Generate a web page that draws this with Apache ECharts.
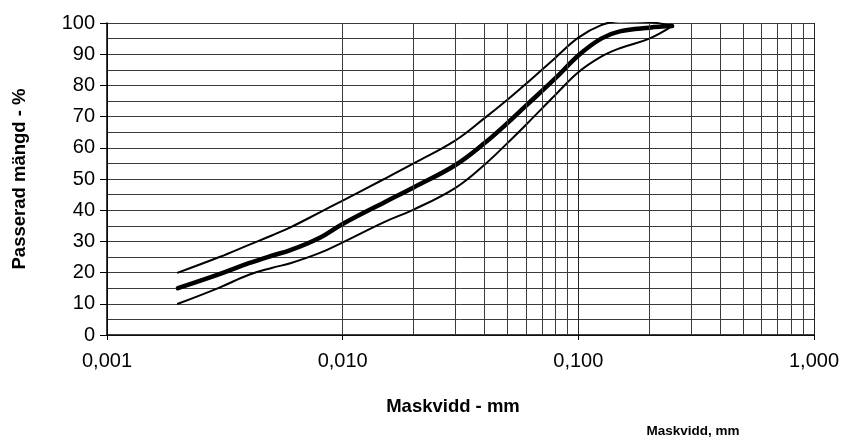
<!DOCTYPE html>
<html>
<head>
<meta charset="utf-8">
<script src="https://cdn.jsdelivr.net/npm/echarts@6/dist/echarts.min.js"></script>
<style>
html,body{margin:0;padding:0;background:#fff;}
#c{width:842px;height:438px;}
</style>
</head>
<body>
<div id="c"></div>
<script>
// Sieve sizes (mm)
var sizes = [0.002, 0.003, 0.004, 0.005, 0.006, 0.008, 0.01, 0.015, 0.02, 0.03, 0.04, 0.05, 0.06, 0.08, 0.1, 0.125, 0.15, 0.2, 0.25];
// Upper limit (%)
var upper = [20, 25, 28.9, 31.9, 34.5, 39.3, 43.1, 50, 55, 62.3, 69.5, 75.4, 80.5, 88.9, 95.3, 99.3, 100.6, 100.3, 99];
// Middle curve (%)
var middle = [15, 19.5, 23, 25.4, 27.2, 31.2, 35.6, 42.5, 47.3, 54.4, 61.5, 67.9, 73.5, 82.3, 89.6, 95, 97.3, 98.5, 99];
// Lower limit (%)
var lower = [10, 15.2, 19.3, 21.5, 23, 26.3, 29.7, 36.2, 40.2, 47.1, 54.6, 61.5, 67.4, 77, 84.2, 89.2, 91.9, 95, 99];
// Minor vertical grid positions (mm)
var minorX = [0.002,0.003,0.004,0.005,0.006,0.007,0.008,0.009,
              0.02,0.03,0.04,0.05,0.06,0.07,0.08,0.09,
              0.2,0.3,0.4,0.5,0.6,0.7,0.8,0.9];
var yTicks = [0,10,20,30,40,50,60,70,80,90,100];

function pairs(xs, ys){ return xs.map(function(x,i){ return [x, ys[i]]; }); }

var FONT = '"Liberation Sans", Arial, sans-serif';
var GRID = '#3a3a3a';

var chart = echarts.init(document.getElementById('c'));
chart.setOption({
  animation: false,
  backgroundColor: '#fff',
  grid: { left: 107, right: 28, top: 23, bottom: 103, containLabel: false, outerBoundsMode: 'none' },
  xAxis: {
    type: 'log', logBase: 10, min: 0.001, max: 1,
    name: 'Maskvidd - mm', nameLocation: 'middle', nameGap: 62,
    nameTextStyle: { fontFamily: FONT, fontSize: 18.5, fontWeight: 'bold', color: '#000', padding: [0, 15, 0, 0] },
    axisLine: { show: true, lineStyle: { color: '#000', width: 1.5 } },
    axisTick: { show: true, length: 5, lineStyle: { color: '#000' } },
    axisLabel: { fontFamily: FONT, fontSize: 20, color: '#000', margin: 16,
      formatter: function(v){ return Number(v).toFixed(3).replace('.', ','); } },
    splitLine: { show: true, lineStyle: { color: '#222', width: 1 } }
  },
  yAxis: {
    type: 'value', min: 0, max: 100, interval: 10,
    name: 'Passerad mängd - %', nameLocation: 'middle', nameGap: 78,
    nameTextStyle: { fontFamily: FONT, fontSize: 18.5, fontWeight: 'bold', color: '#000' },
    axisLine: { show: true, lineStyle: { color: '#000', width: 1.5 } },
    axisTick: { show: true, length: 7, lineStyle: { color: '#000' } },
    axisLabel: { fontFamily: FONT, fontSize: 20, color: '#000', margin: 12 },
    splitLine: { show: true, lineStyle: { color: GRID, width: 1 } },
    minorTick: { show: false, splitNumber: 2 },
    minorSplitLine: { show: true, lineStyle: { color: GRID, width: 1 } }
  },
  graphic: [{
    type: 'text', x: 693, y: 431,
    style: { text: 'Maskvidd, mm', fontFamily: FONT, fontSize: 13.5, fontWeight: 'bold', fill: '#000', align: 'center', verticalAlign: 'middle' }
  }],
  series: [
    {
      type: 'line', data: pairs(sizes, middle), showSymbol: false, silent: true, z: 1,
      lineStyle: { opacity: 0 },
      markLine: {
        silent: true, symbol: ['none','none'], label: { show: false },
        lineStyle: { color: GRID, width: 1, type: 'solid' },
        data: minorX.map(function(v){ return { xAxis: v }; })
      }
    },
    { type: 'line', data: pairs(sizes, upper), smooth: 0.4, showSymbol: false, clip: true, z: 3,
      lineStyle: { color: '#000', width: 2, cap: 'round' } },
    { type: 'line', data: pairs(sizes, lower), smooth: 0.4, showSymbol: false, clip: true, z: 3,
      lineStyle: { color: '#000', width: 2, cap: 'round' } },
    { type: 'line', data: pairs(sizes, middle), smooth: 0.4, showSymbol: false, clip: true, z: 4,
      lineStyle: { color: '#000', width: 4.5, cap: 'round' } }
  ]
});
</script>
</body>
</html>
